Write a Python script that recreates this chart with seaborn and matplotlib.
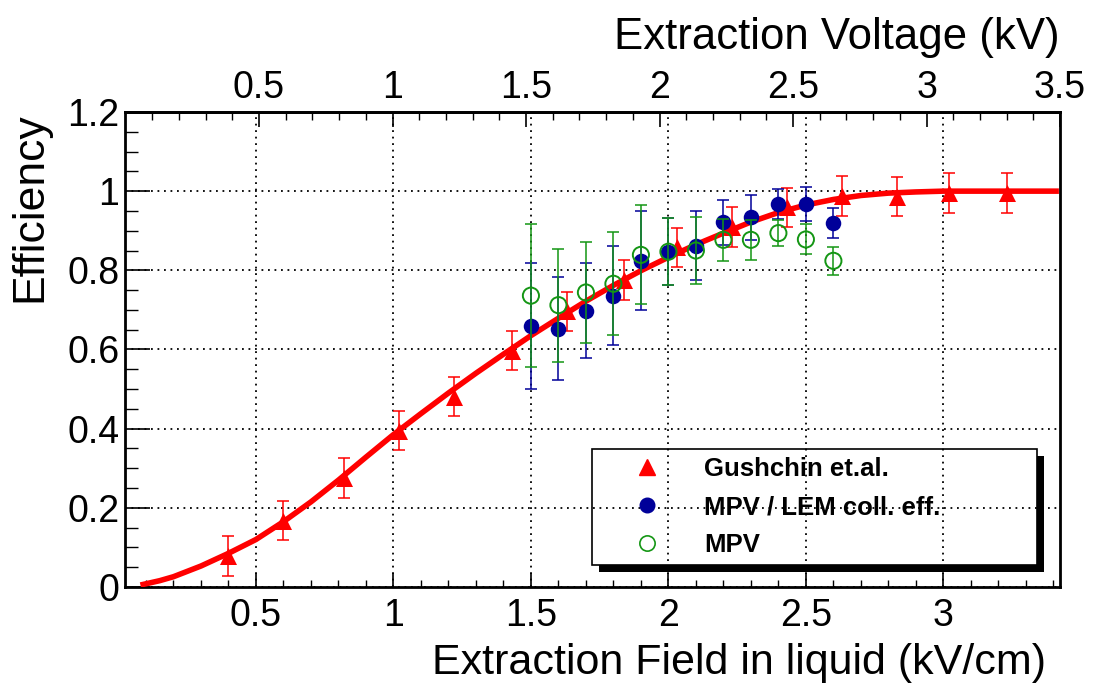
import numpy as np
import pandas as pd
import matplotlib
matplotlib.use('Agg')
import matplotlib.pyplot as plt
import seaborn as sns
from matplotlib.lines import Line2D
from matplotlib.patches import Polygon
from matplotlib.ticker import MultipleLocator, FixedLocator, FuncFormatter

# Gushchin et.al. points (field in kV/cm, efficiency, error)
FIELD_GUSH = [0.40, 0.60, 0.82, 1.02, 1.22, 1.43, 1.63, 1.84, 2.03, 2.23, 2.43, 2.63, 2.83, 3.02, 3.23]
EFF_GUSH = [0.078, 0.168, 0.275, 0.395, 0.481, 0.597, 0.696, 0.776, 0.858, 0.909, 0.959, 0.988, 0.986, 0.996, 0.996]
ERR_GUSH = [0.05, 0.05, 0.05, 0.05, 0.05, 0.05, 0.05, 0.05, 0.05, 0.05, 0.05, 0.05, 0.05, 0.05, 0.05]

# fit curve
CURVE_X = [0.08, 0.15, 0.2, 0.3, 0.4, 0.5, 0.6, 0.7, 0.8, 0.9, 1.0, 1.1, 1.2, 1.3, 1.4, 1.5, 1.6,
           1.7, 1.8, 1.9, 2.0, 2.1, 2.2, 2.3, 2.4, 2.5, 2.6, 2.7, 2.8, 2.9, 3.0, 3.2, 3.42]
CURVE_Y = [0.005, 0.016, 0.026, 0.053, 0.085, 0.12, 0.165, 0.215, 0.27, 0.328, 0.385, 0.438, 0.49,
           0.54, 0.588, 0.635, 0.679, 0.722, 0.762, 0.799, 0.833, 0.865, 0.894, 0.922, 0.946,
           0.965, 0.979, 0.989, 0.995, 0.998, 1.0, 1.0, 1.0]

# this measurement
FIELD_MPV = [1.5, 1.6, 1.7, 1.8, 1.9, 2.0, 2.1, 2.2, 2.3, 2.4, 2.5, 2.6]
EFF_LEM = [0.659, 0.653, 0.698, 0.736, 0.824, 0.847, 0.862, 0.921, 0.934, 0.967, 0.967, 0.919]
ERR_LEM = [0.16, 0.13, 0.12, 0.125, 0.125, 0.085, 0.087, 0.056, 0.057, 0.038, 0.043, 0.038]
EFF_MPV = [0.736, 0.712, 0.744, 0.766, 0.839, 0.847, 0.85, 0.877, 0.877, 0.894, 0.878, 0.824]
ERR_MPV = [0.18, 0.143, 0.127, 0.13, 0.125, 0.084, 0.085, 0.053, 0.05, 0.033, 0.038, 0.035]

LABELS = ['Gushchin et.al.', 'MPV / LEM coll. eff.', 'MPV']
RED, BLUE, GREEN = '#ff0000', '#000099', '#149614'

X_RANGE = (0.024, 3.424)
# extraction voltage (kV) on top, linear in field
KV_TOP, KV_SLOPE = 3.5, 1.03

FONT = ['Liberation Sans', 'DejaVu Sans']


def to_kv(f):
    return KV_TOP + KV_SLOPE * (np.asarray(f) - X_RANGE[1])


def to_field(v):
    return X_RANGE[1] + (np.asarray(v) - KV_TOP) / KV_SLOPE


def fmt_g(v, pos):
    return f'{v:g}'


def main():
    sns.set_style('ticks')
    plt.rcParams['font.family'] = FONT
    plt.rcParams['xtick.direction'] = 'in'
    plt.rcParams['ytick.direction'] = 'in'
    # ROOT look: everything pure black
    for key in ['text.color', 'axes.labelcolor', 'xtick.color', 'ytick.color', 'axes.edgecolor']:
        plt.rcParams[key] = 'black'

    fig = plt.figure(figsize=(10.93, 6.84), dpi=100)
    ax = fig.add_axes([0.1144, 0.1418, 0.8554, 0.6945])

    gush = pd.DataFrame({'field': FIELD_GUSH, 'eff': EFF_GUSH, 'err': ERR_GUSH})
    mpv = pd.DataFrame({'field': FIELD_MPV, 'lem': EFF_LEM, 'lem_err': ERR_LEM,
                        'mpv': EFF_MPV, 'mpv_err': ERR_MPV})
    curve = pd.DataFrame({'field': CURVE_X, 'eff': CURVE_Y})

    eb = dict(fmt='none', capsize=4.5, elinewidth=1.1, capthick=1.1)

    # fit + Gushchin points
    sns.lineplot(data=curve, x='field', y='eff', color=RED, linewidth=4.0, ax=ax,
                 solid_joinstyle='round', solid_capstyle='butt', zorder=3)
    ax.errorbar(gush['field'], gush['eff'], yerr=gush['err'], ecolor=RED, zorder=4, **eb)
    sns.scatterplot(data=gush, x='field', y='eff', marker='^', s=150, color=RED,
                    linewidth=0, ax=ax, zorder=4)

    # MPV / LEM coll. eff.
    ax.errorbar(mpv['field'], mpv['lem'], yerr=mpv['lem_err'], ecolor=BLUE, zorder=5, **eb)
    sns.scatterplot(data=mpv, x='field', y='lem', marker='o', s=125, color=BLUE,
                    linewidth=0, ax=ax, zorder=5)

    # MPV
    ax.errorbar(mpv['field'], mpv['mpv'], yerr=mpv['mpv_err'], ecolor=GREEN, zorder=6, **eb)
    ax.scatter(mpv['field'], mpv['mpv'], marker='o', s=135, facecolors='none',
               edgecolors=GREEN, linewidths=1.4, zorder=6)

    ax.set_xlim(*X_RANGE)
    ax.set_ylim(0, 1.2)

    ax.xaxis.set_major_locator(MultipleLocator(0.5))
    ax.xaxis.set_minor_locator(MultipleLocator(0.1))
    ax.yaxis.set_major_locator(MultipleLocator(0.2))
    ax.yaxis.set_minor_locator(MultipleLocator(0.05))
    ax.xaxis.set_major_formatter(FuncFormatter(fmt_g))
    ax.yaxis.set_major_formatter(FuncFormatter(fmt_g))

    ax.tick_params(axis='x', which='major', length=10, width=1.2, labelsize=27, pad=8,
                   top=False, bottom=True, colors='black')
    ax.tick_params(axis='x', which='minor', length=5, width=1.0, top=False, colors='black')
    ax.tick_params(axis='y', which='major', length=18, width=1.2, labelsize=27, pad=4,
                   right=False, colors='black')
    ax.tick_params(axis='y', which='minor', length=9, width=1.0, right=False, colors='black')

    ax.grid(True, which='major', color='black', linestyle=(0, (1, 2.6)), linewidth=1.3)
    for s in ax.spines.values():
        s.set_linewidth(2.0)
        s.set_color('black')
        s.set_visible(True)

    ax.set_xlabel('Extraction Field in liquid (kV/cm)', fontsize=31, loc='right', color='black')
    ax.xaxis.set_label_coords(0.985, -0.117)
    ax.set_ylabel('Efficiency', fontsize=32, loc='top', color='black')
    ax.yaxis.set_label_coords(-0.080, 1.0)

    # top axis: extraction voltage
    sec = ax.secondary_xaxis('top', functions=(to_kv, to_field))
    sec.xaxis.set_major_locator(FixedLocator([0.5, 1.0, 1.5, 2.0, 2.5, 3.0, 3.5]))
    sec.xaxis.set_minor_locator(FixedLocator(np.round(np.arange(0.1, 3.45, 0.1), 2)))
    sec.xaxis.set_major_formatter(FuncFormatter(fmt_g))
    sec.tick_params(axis='x', which='major', length=11, width=1.2, labelsize=27, pad=4,
                    direction='in', colors='black')
    sec.tick_params(axis='x', which='minor', length=5.5, width=1.0, direction='in',
                    colors='black')
    sec.spines['top'].set_linewidth(2.0)
    sec.spines['top'].set_color('black')
    sec.set_xlabel('Extraction Voltage (kV)', fontsize=31.5, loc='right', color='black')
    sec.xaxis.set_label_coords(1.0, 1.132, transform=ax.transAxes)

    handles = [
        Line2D([], [], marker='^', color=RED, linestyle='none', markersize=11.5),
        Line2D([], [], marker='o', color=BLUE, linestyle='none', markersize=10.5),
        Line2D([], [], marker='o', markerfacecolor='none', markeredgecolor=GREEN,
               markeredgewidth=1.2, linestyle='none', markersize=11),
    ]
    leg = ax.legend(handles, LABELS, loc='lower left', mode='expand',
                    bbox_to_anchor=(0.4995, 0.0463, 0.476, 0.24), borderaxespad=0,
                    prop={'family': FONT, 'weight': 'bold', 'size': 18.5},
                    handlelength=3.7, handletextpad=0.35, borderpad=0.3, labelspacing=0.55,
                    frameon=True, fancybox=False, framealpha=1, labelcolor='black')
    frame = leg.get_frame()
    frame.set_facecolor('none')
    frame.set_edgecolor('black')
    frame.set_linewidth(1.2)
    leg.set_zorder(10)

    # solid black drop shadow, right and bottom strips only
    fig.canvas.draw()
    bb = leg.get_window_extent()
    d = 7
    pts = [(bb.x0 + d, bb.y0), (bb.x1, bb.y0), (bb.x1, bb.y1 - d), (bb.x1 + d, bb.y1 - d),
           (bb.x1 + d, bb.y0 - d), (bb.x0 + d, bb.y0 - d)]
    pts = fig.transFigure.inverted().transform(pts)
    fig.patches.append(Polygon(pts, closed=True, facecolor='black', edgecolor='none',
                               transform=fig.transFigure, figure=fig, zorder=5))

    fig.savefig('out.png', dpi=100)
    plt.close(fig)


if __name__ == '__main__':
    main()
